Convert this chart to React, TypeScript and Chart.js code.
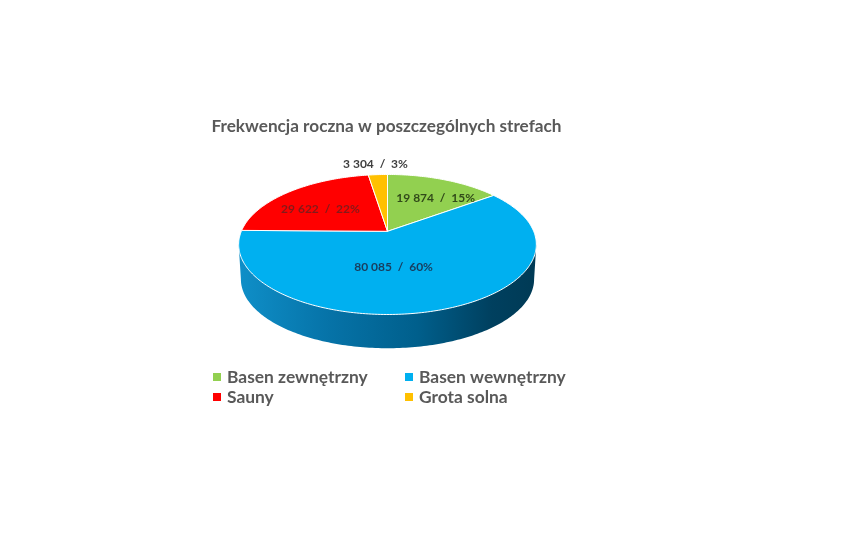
import React, { useEffect, useRef } from "react";
import { Chart, registerables } from "chart.js";

Chart.register(...registerables);

const categories = ["Basen zewnętrzny", "Basen wewnętrzny", "Sauny", "Grota solna"];
const visitors = [19874, 80085, 29622, 3304];
const sliceLabels = ["19 874  /  15%", "80 085  /  60%", "29 622  /  22%", "3 304  /  3%"];
const sliceColors = ["#92D050", "#00B0F0", "#FF0000", "#FFC000"];
const titleText = "Frekwencja roczna w poszczególnych strefach";

// Layout of the tilted pie, relative to what the library computed for the arcs.
const TILT = 0.462; // vertical squash
const PERSPECTIVE = 0.188;
const DEPTH = 35;
const SHIFT_X = 1;
const SHIFT_Y = -52;
const labelColors = ["rgba(40,60,20,0.9)", "rgba(25,55,85,0.95)", "rgba(110,30,30,0.85)", "#404040"];
const labelRadius = [0.62, 0.55, 0.72, 1.18];
const labelNudge = [[11, 1], [-21, -3], [6, 7], [-1, -2]];

function project(el: any, u: number, v: number, dy = 0, k = 1) {
  const w = 1 - PERSPECTIVE * v;
  const R = el.outerRadius * k;
  return {
    x: el.x + SHIFT_X + (R * u) / w,
    y: el.y + SHIFT_Y + dy + (R * TILT * v) / w,
  };
}

const tiltedPie = {
  id: "tiltedPie",
  beforeDatasetDraw(chart: any, args: any) {
    const ctx = chart.ctx;
    const arcs = args.meta.data;
    const first = arcs[0];
    // side wall
    const a0 = Math.asin(PERSPECTIVE);
    const a1 = Math.PI - a0;
    ctx.save();
    const steps = 160;
    ctx.beginPath();
    for (let i = 0; i <= steps; i++) {
      const t = a0 + ((a1 - a0) * i) / steps;
      const p = project(first, Math.cos(t), Math.sin(t), DEPTH, 0.985);
      i === 0 ? ctx.moveTo(p.x, p.y) : ctx.lineTo(p.x, p.y);
    }
    const l = project(first, Math.cos(a1), Math.sin(a1));
    const r = project(first, Math.cos(a0), Math.sin(a0));
    ctx.lineTo(l.x, l.y);
    ctx.lineTo(r.x, r.y);
    ctx.closePath();
    const g = ctx.createLinearGradient(l.x, 0, r.x, 0);
    g.addColorStop(0, "#0F8FC8");
    g.addColorStop(0.3, "#0673A8");
    g.addColorStop(0.6, "#005F8C");
    g.addColorStop(0.85, "#00405F");
    g.addColorStop(1, "#003A55");
    ctx.fillStyle = g;
    ctx.fill();

    // top face
    arcs.forEach((el: any) => {
      const n = Math.max(4, Math.ceil((el.endAngle - el.startAngle) * 60));
      ctx.beginPath();
      const c = project(el, 0, 0);
      ctx.moveTo(c.x, c.y);
      for (let i = 0; i <= n; i++) {
        const t = el.startAngle + ((el.endAngle - el.startAngle) * i) / n;
        const p = project(el, Math.cos(t), Math.sin(t));
        ctx.lineTo(p.x, p.y);
      }
      ctx.closePath();
      ctx.fillStyle = el.options.backgroundColor;
      ctx.fill();
      ctx.strokeStyle = el.options.borderColor;
      ctx.lineWidth = el.options.borderWidth;
      ctx.lineJoin = "round";
      ctx.stroke();
    });

    // slice labels
    ctx.font = "bold 12px Lato";
    ctx.textAlign = "center";
    ctx.textBaseline = "middle";
    arcs.forEach((el: any, i: number) => {
      const mid = (el.startAngle + el.endAngle) / 2;
      const f = labelRadius[i];
      const p = project(el, Math.cos(mid) * f, Math.sin(mid) * f);
      ctx.fillStyle = labelColors[i];
      ctx.fillText(sliceLabels[i], p.x + labelNudge[i][0], p.y + labelNudge[i][1]);
    });
    ctx.restore();
    return false;
  },
};

const gridLegend = {
  id: "gridLegend",
  afterDraw(chart: any) {
    const ctx = chart.ctx;
    const colors = chart.data.datasets[0].backgroundColor;
    const cols = [213, 405];
    const rows = [377, 397];
    ctx.save();
    ctx.font = "bold 17.4px Lato";
    ctx.textBaseline = "middle";
    ctx.textAlign = "left";
    // legend order runs across the rows: outdoor, indoor / saunas, salt cave
    chart.data.labels.forEach((label: string, i: number) => {
      const x = cols[i % 2];
      const y = rows[Math.floor(i / 2)];
      ctx.fillStyle = colors[i];
      ctx.fillRect(x, y - 4, 8, 8);
      ctx.fillStyle = "#595959";
      ctx.fillText(label, x + 14, y);
    });
    ctx.restore();
  },
};

export default function App() {
  const ref = useRef<HTMLCanvasElement>(null);
  useEffect(() => {
    const chart = new Chart(ref.current!, {
      type: "pie",
      data: {
        labels: categories,
        datasets: [
          {
            data: visitors,
            backgroundColor: sliceColors,
            borderColor: "#FFFFFF",
            borderWidth: 1,
          },
        ],
      },
      options: {
        responsive: false,
        animation: false,
        layout: { padding: { left: 0, right: 91, top: 0, bottom: 110 } },
        plugins: {
          legend: { display: false },
          tooltip: { enabled: false },
          title: {
            display: true,
            text: titleText,
            color: "#595959",
            font: { family: "Lato", size: 17.2, weight: "bold" },
            padding: { top: 116, bottom: 0 },
          },
        },
      },
      plugins: [tiltedPie, gridLegend],
    });
    return () => chart.destroy();
  }, []);
  return (
    <div style={{ position: "absolute", left: 0, top: 0, width: 864, height: 540, background: "#fff" }}>
      <canvas ref={ref} width={864} height={540} style={{ display: "block" }} />
    </div>
  );
}
